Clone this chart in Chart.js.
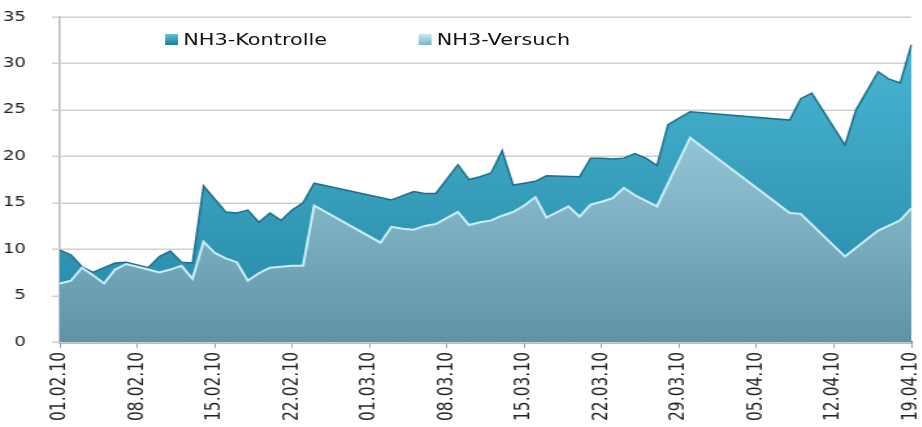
<!DOCTYPE html>
<html>
<head>
<meta charset="utf-8">
<title>NH3 Kontrolle / Versuch</title>
<script src="https://cdn.jsdelivr.net/npm/chart.js@4.4.0/dist/chart.umd.min.js"></script>
<style>
    html, body { margin: 0; padding: 0; background: #fff; }
    /* the original picture is stretched sideways, so draw narrow and stretch */
    .chart-wrap {
        position: relative;
        width: 709px;
        height: 427px;
        transform: scaleX(1.3);
        transform-origin: 0 0;
    }
    .legend-item {
        position: absolute;
        top: 30px;
        display: flex;
        align-items: center;
        white-space: nowrap;
        font-family: "DejaVu Sans", sans-serif;
        font-size: 16px;
        color: #111;
    }
    .legend-color { width: 10px; height: 11px; margin-right: 4px; }
</style>
</head>
<body>
<div class="chart-wrap">
    <canvas id="nh3Chart"></canvas>
    <div id="chartLegend"></div>
</div>
<script>
// Daily categories 01.02.10 .. 19.04.10
const dayCount = 78;
const days = [];
for (let i = 0; i < dayCount; i++) {
    const d = new Date(2010, 1, 1 + i);
    const dd = String(d.getDate()).padStart(2, '0');
    const mm = String(d.getMonth() + 1).padStart(2, '0');
    days.push(dd + '.' + mm + '.10');
}

// Series values (null = no measurement, line is drawn straight across)
const kontrolle = [
    9.9, 9.4, 8.1, 7.5, 8.0, 8.5, 8.6,
    8.3, 8.0, 9.2, 9.8, 8.6, 8.5, 16.8,
    15.4, 14.0, 13.9, 14.2, 12.9, 13.9, 13.1,
    14.2, 15.0, 17.1, null, null, null, null,
    null, null, 15.3, null, 16.2, 16.0, 16.0,
    null, 19.1, 17.5, 17.8, 18.2, 20.6, 16.9,
    17.1, 17.3, 17.9, null, null, 17.8, 19.8,
    19.8, 19.7, 19.8, 20.3, 19.8, 19.0, 23.4,
    24.1, 24.8, null, null, null, null, null,
    null, null, null, 23.9, 26.2, 26.8, null,
    null, 21.2, 25.0, null, 29.1, 28.3, 27.9,
    32.0
];

const versuch = [
    6.3, 6.6, 8.0, 7.2, 6.3, 7.8, 8.4,
    8.1, 7.8, 7.5, 7.8, 8.2, 6.8, 10.8,
    9.6, 9.0, 8.6, 6.6, 7.4, 8.0, 8.1,
    8.2, 8.2, 14.7, null, null, null, null,
    null, 10.7, 12.4, 12.2, 12.1, 12.5, 12.7,
    null, 14.0, 12.6, 12.9, 13.1, 13.6, 14.0,
    14.7, 15.6, 13.4, 14.0, 14.6, 13.5, 14.8,
    15.1, 15.5, 16.6, 15.8, 15.2, 14.6, null,
    null, 22.0, null, null, null, null, null,
    null, null, null, 13.9, 13.8, null, null,
    null, 9.2, null, null, 12.0, null, 13.1,
    14.4
];

const seriesNames = ['NH3-Kontrolle', 'NH3-Versuch'];
const yMax = 35;
const yStep = 5;

// Vertical gradient over the chart area
function makeGradient(context, topColor, bottomColor) {
    const chart = context.chart;
    const area = chart.chartArea;
    if (!area) return bottomColor;
    const g = chart.ctx.createLinearGradient(0, area.top, 0, area.bottom);
    g.addColorStop(0, topColor);
    g.addColorStop(1, bottomColor);
    return g;
}

// Horizontal grid lines drawn under the areas, from the y scale ticks
const yGridPlugin = {
    id: 'yGrid',
    beforeDatasetsDraw(chart) {
        const { ctx, chartArea, scales } = chart;
        ctx.save();
        ctx.strokeStyle = '#cfcfcf';
        ctx.lineWidth = 1.5;
        scales.y.ticks.forEach(t => {
            const y = Math.round(scales.y.getPixelForValue(t.value)) + 0.25;
            ctx.beginPath();
            ctx.moveTo(chartArea.left - 6, y);
            ctx.lineTo(chartArea.right, y);
            ctx.stroke();
        });
        ctx.restore();
    }
};

// Legend sits inside the plot, so it is built by hand
function createCustomLegend() {
    const legendContainer = document.getElementById('chartLegend');
    const swatches = [
        { left: 127, bg: 'linear-gradient(#5cc3de, #1c7a98)' },
        { left: 322, bg: 'linear-gradient(#c4e9f5, #7ab4c9)' }
    ];
    seriesNames.forEach((name, i) => {
        const item = document.createElement('div');
        item.className = 'legend-item';
        item.style.left = swatches[i].left + 'px';
        item.innerHTML = `<div class="legend-color" style="background:${swatches[i].bg}"></div><span>${name}</span>`;
        legendContainer.appendChild(item);
    });
}

const ctx = document.getElementById('nh3Chart').getContext('2d');

new Chart(ctx, {
    type: 'line',
    data: {
        labels: days,
        datasets: [{
            label: seriesNames[0],
            data: kontrolle,
            order: 1,
            fill: 'origin',
            spanGaps: true,
            tension: 0,
            pointRadius: 0,
            borderWidth: 1.5,
            borderColor: '#1f6f88',
            backgroundColor: c => makeGradient(c, '#4bbad6', '#2586a5')
        }, {
            label: seriesNames[1],
            data: versuch,
            order: 0,
            fill: 'origin',
            spanGaps: true,
            tension: 0,
            pointRadius: 0,
            borderWidth: 2,
            borderColor: '#c8eef9',
            backgroundColor: c => makeGradient(c, '#b5e3f3', '#5e93a7')
        }]
    },
    plugins: [yGridPlugin],
    options: {
        responsive: true,
        maintainAspectRatio: false,
        animation: false,
        layout: { padding: { top: 17, right: 8, left: 0, bottom: 0 } },
        plugins: {
            legend: { display: false },
            tooltip: { enabled: false }
        },
        scales: {
            x: {
                type: 'category',
                afterFit: scale => {
                    scale.height = 85;
                    scale.paddingRight = 0;
                    scale.paddingLeft = 0;
                },
                grid: {
                    drawOnChartArea: false,
                    tickLength: 6,
                    color: c => (c.index % 7 === 0 ? '#9aa4a8' : 'rgba(0,0,0,0)')
                },
                border: { color: '#5b7f8b', width: 2.5 },
                ticks: {
                    autoSkip: false,
                    maxRotation: 90,
                    minRotation: 90,
                    padding: 4,
                    color: '#222',
                    font: { family: 'DejaVu Sans', size: 15.5 },
                    callback: function(value, index) {
                        return index % 7 === 0 ? days[index] : '';
                    }
                }
            },
            y: {
                type: 'linear',
                min: 0,
                max: yMax,
                afterFit: scale => {
                    scale.width = 46;
                    scale.paddingTop = 0;
                    scale.paddingBottom = 0;
                },
                grid: { display: false },
                border: { display: true, color: '#bdbdbd', width: 1.5 },
                ticks: {
                    stepSize: yStep,
                    padding: 18,
                    color: '#222',
                    font: { family: 'DejaVu Sans', size: 14 }
                }
            }
        }
    }
});

createCustomLegend();
</script>
</body>
</html>
